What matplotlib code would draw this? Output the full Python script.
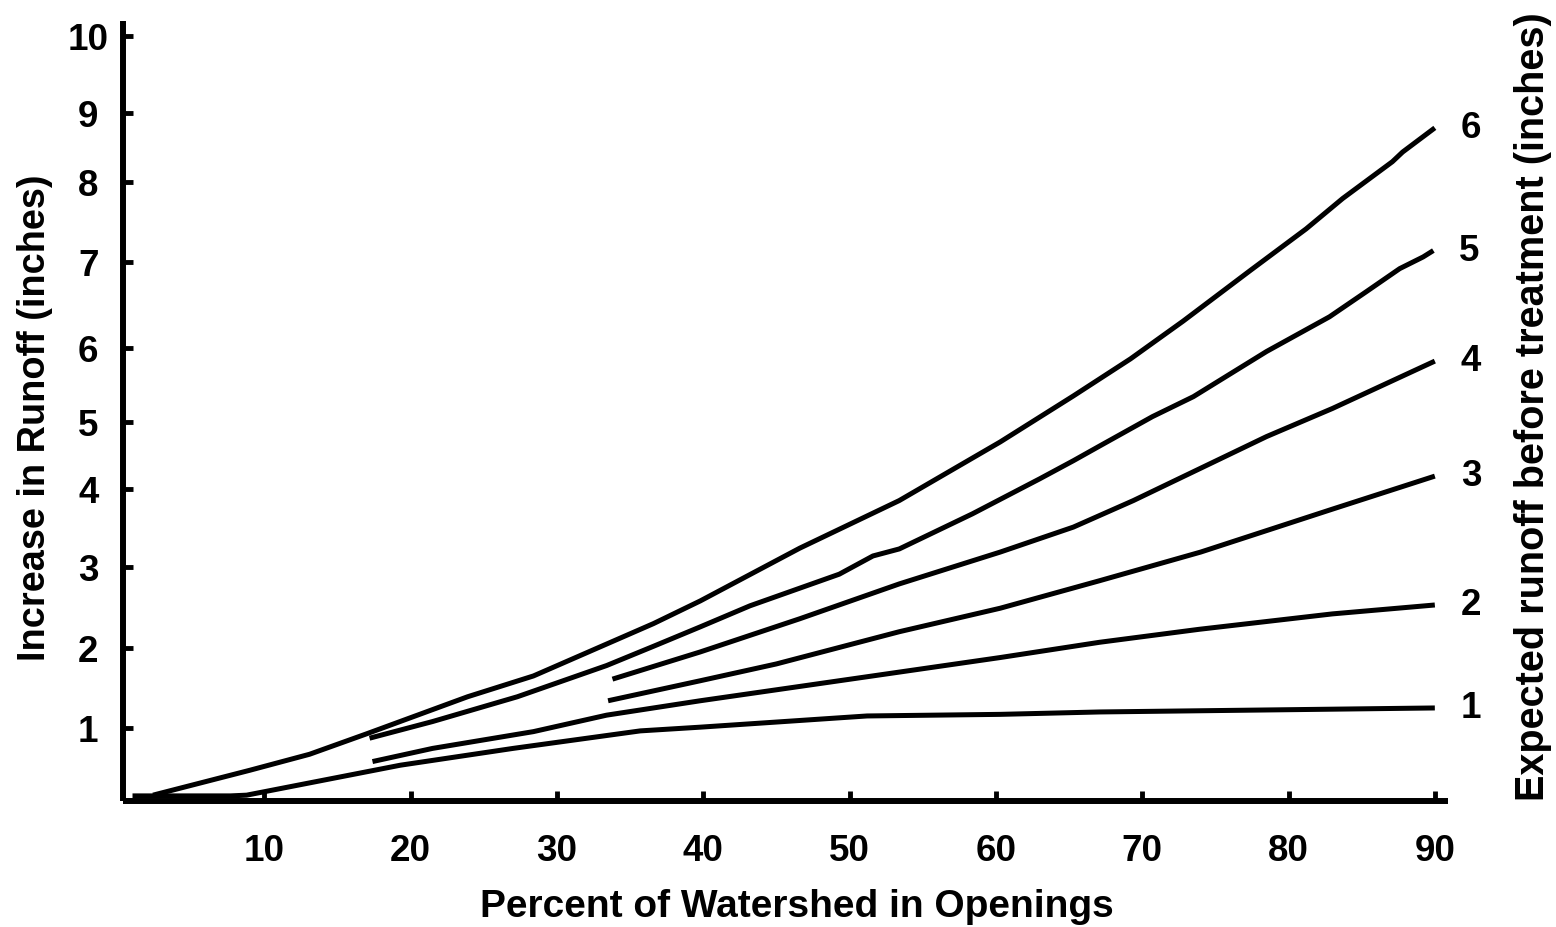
import numpy as np
import matplotlib
matplotlib.use("Agg")
import matplotlib.pyplot as plt

# ---------------- data ----------------
x_ticks = [10, 20, 30, 40, 50, 60, 70, 80, 90]
y_ticks = [1, 2, 3, 4, 5, 6, 7, 8, 9, 10]

curve_labels = ["1", "2", "3", "4", "5", "6"]

line1_x = [1.0, 7.7, 8.8, 19.3, 27.0, 35.7, 39.8, 51.2, 60.3, 67.1, 90.0]
line1_y = [0.07, 0.07, 0.08, 0.49, 0.72, 0.96, 1.01, 1.15, 1.17, 1.20, 1.25]

line2_x = [17.4, 21.5, 28.4, 33.4, 39.8, 51.2, 60.3, 67.1, 73.9, 83.0, 90.0]
line2_y = [0.54, 0.72, 0.95, 1.16, 1.34, 1.64, 1.88, 2.07, 2.23, 2.42, 2.53]

line3_x = [33.5, 39.8, 45.0, 53.4, 60.3, 67.1, 74.0, 83.0, 90.0]
line3_y = [1.34, 1.59, 1.80, 2.20, 2.49, 2.83, 3.19, 3.74, 4.19]

line4_x = [33.8, 39.8, 46.6, 53.4, 60.3, 65.3, 69.4, 78.5, 83.0, 90.0]
line4_y = [1.61, 1.95, 2.36, 2.79, 3.19, 3.51, 3.85, 4.78, 5.18, 5.82]

line5_x = [17.2, 21.5, 27.3, 33.4, 36.6, 39.8, 43.2, 49.3, 51.6, 53.4, 58.4,
           63.0, 65.3, 67.1, 70.7, 73.5, 78.5, 82.8, 85.3, 87.6, 89.2, 89.9]
line5_y = [0.86, 1.08, 1.39, 1.78, 2.02, 2.26, 2.52, 2.91, 3.14, 3.23, 3.68,
           4.15, 4.42, 4.64, 5.07, 5.34, 5.95, 6.36, 6.65, 6.92, 7.06, 7.14]

line6_x = [2.4, 9.0, 13.1, 17.0, 23.9, 28.4, 36.6, 39.8, 46.6, 53.4, 60.3,
           65.3, 69.2, 72.8, 77.4, 81.2, 83.7, 87.1, 87.8, 90.0]
line6_y = [0.08, 0.42, 0.64, 0.92, 1.39, 1.65, 2.30, 2.58, 3.24, 3.85, 4.70,
           5.35, 5.85, 6.31, 6.90, 7.41, 7.79, 8.29, 8.43, 8.78]

x_label = "Percent of Watershed in Openings"
y_label = "Increase in Runoff (inches)"
right_label = "Expected runoff before treatment (inches)"

# ---------------- layout ----------------
W, H = 1556, 928
AX_LEFT, AX_RIGHT, AX_BOTTOM, AX_TOP = 123, 1448, 802, 22  # pixels

# The hand-drawn y axis has slightly irregular tick spacing: pixel rows of ticks 0..10
Y_TICK_ROWS = np.array([802, 729, 649, 568, 490, 423, 349, 263, 183, 114, 37], dtype=float)
_vals = np.arange(0, 11, dtype=float)
_h = AX_BOTTOM - Y_TICK_ROWS
_ext_vals = np.concatenate([[-1.0], _vals, [11.0]])
_ext_h = np.concatenate([[-77.0], _h, [_h[-1] + 77.0]])


def _fwd(v):
    return np.interp(v, _ext_vals, _ext_h)


def _inv(h):
    return np.interp(h, _ext_h, _ext_vals)


plt.rcParams["font.family"] = ["Liberation Sans", "DejaVu Sans"]
plt.rcParams["font.weight"] = "bold"

fig = plt.figure(figsize=(W / 100, H / 100), dpi=100)
ax = fig.add_axes([AX_LEFT / W, 1 - AX_BOTTOM / H,
                   (AX_RIGHT - AX_LEFT) / W, (AX_BOTTOM - AX_TOP) / H])
ax.set_yscale("function", functions=(_fwd, _inv))

lines = [(line1_x, line1_y), (line2_x, line2_y), (line3_x, line3_y),
         (line4_x, line4_y), (line5_x, line5_y), (line6_x, line6_y)]
for (xs, ys), lab in zip(lines, curve_labels):
    ax.plot(xs, ys, color="black", lw=3.6, solid_capstyle="butt",
            solid_joinstyle="round", clip_on=False)
    ax.annotate(lab, xy=(xs[-1], ys[-1]), xytext=(26, 3),
                textcoords="offset points", ha="center", va="center_baseline",
                fontsize=26.5, fontweight="bold")

ax.set_xlim(0.35, 90.9)
ax.set_ylim(0, 10.19)
ax.set_xticks(x_ticks)
ax.set_yticks(y_ticks)
ax.set_xticklabels([str(v) for v in x_ticks])
ax.set_yticklabels([str(v) for v in y_ticks])
ax.minorticks_off()

for side in ("top", "right"):
    ax.spines[side].set_visible(False)
for side in ("left", "bottom"):
    ax.spines[side].set_linewidth(4.3)
    ax.spines[side].set_capstyle("butt")

ax.tick_params(axis="both", direction="in", width=3.5, length=7.5,
               labelsize=26.5, color="black")
ax.tick_params(axis="y", pad=25)
ax.tick_params(axis="x", pad=23)
plt.setp(ax.get_yticklabels(), ha="center", fontweight="bold")
plt.setp(ax.get_xticklabels(), fontweight="bold")

ax.set_xlabel(x_label, fontsize=28, fontweight="bold", va="baseline")
ax.xaxis.set_label_coords((797 - AX_LEFT) / (AX_RIGHT - AX_LEFT),
                          (AX_BOTTOM - 917) / (AX_BOTTOM - AX_TOP))
ax.set_ylabel(y_label, fontsize=27.3, fontweight="bold", va="baseline")
ax.yaxis.set_label_coords((45 - AX_LEFT) / (AX_RIGHT - AX_LEFT),
                          (AX_BOTTOM - 418) / (AX_BOTTOM - AX_TOP))
ax.text((1544 - AX_LEFT) / (AX_RIGHT - AX_LEFT),
        (AX_BOTTOM - 407) / (AX_BOTTOM - AX_TOP),
        right_label, transform=ax.transAxes, rotation=90,
        rotation_mode="anchor", ha="center", va="baseline",
        fontsize=28.5, fontweight="bold")

fig.savefig("out.png", dpi=100, facecolor="white")
